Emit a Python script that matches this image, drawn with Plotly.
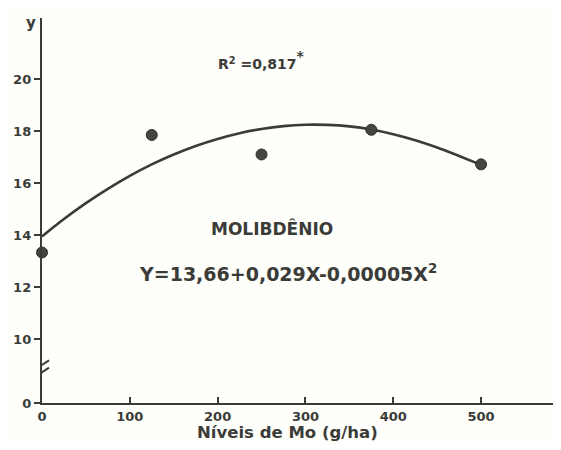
import plotly.graph_objects as go

# Observed data (Mo levels g/ha vs y)
mo_levels = [0, 125, 250, 375, 500]
y_obs = [13.33, 17.85, 17.1, 18.05, 16.72]

# Fitted curve as drawn
curve_x = [0, 25, 50, 75, 100, 125, 150, 175, 200, 225, 250, 275, 300, 325, 350, 375, 400, 425, 450, 475, 500]
curve_y = [13.95, 14.62, 15.23, 15.78, 16.28, 16.72, 17.1, 17.43, 17.7, 17.92, 18.08, 18.19, 18.245,
           18.24, 18.18, 18.06, 17.88, 17.65, 17.37, 17.04, 16.7]

x_ticks = [0, 100, 200, 300, 400, 500]
x_ticktext = ["0", "100", "200", "300", "400", "500"]
y_break = 7.54
y_ticks = [y_break, 10, 12, 14, 16, 18, 20]
y_ticktext = ["0", "10", "12", "14", "16", "18", "20"]

ink = "#3b3b38"
font = "DejaVu Sans"

fig = go.Figure()
fig.add_trace(go.Scatter(x=curve_x, y=curve_y, mode="lines",
                         line=dict(color=ink, width=2.6, shape="spline", smoothing=1.0),
                         hoverinfo="skip", showlegend=False))
fig.add_trace(go.Scatter(x=mo_levels, y=y_obs, mode="markers",
                         marker=dict(color="#444441", size=11, line=dict(color="#2e2e2c", width=1)),
                         showlegend=False, cliponaxis=False))

# page body has an 8px margin: compensate so the plot lands where the reference has it
fig.update_layout(
    width=553, height=434,
    margin=dict(l=34, r=0, t=10, b=39),
    paper_bgcolor="#fefefb", plot_bgcolor="#fefefb",
    font=dict(family=font, color=ink, size=13),
    xaxis=dict(range=[0, 591], tickvals=x_ticks, ticktext=x_ticktext, automargin=False,
               showline=True, linecolor=ink, linewidth=2.4, showgrid=False, zeroline=False,
               ticks="inside", ticklen=6, tickwidth=2, tickcolor=ink,
               tickfont=dict(size=13, family=font, color=ink, weight="bold")),
    yaxis=dict(range=[y_break, 22.35], tickvals=y_ticks, ticktext=y_ticktext, automargin=False,
               showline=True, linecolor=ink, linewidth=2.4, showgrid=False, zeroline=False,
               ticks="outside", ticklen=6, tickwidth=2, tickcolor=ink,
               tickfont=dict(size=13, family=font, color=ink, weight="bold")),
)

# axis break marks
for dy in [0, 0.28]:
    fig.add_shape(type="line", xref="x", yref="y",
                  x0=-8, x1=8, y0=8.55 + dy, y1=8.9 + dy,
                  line=dict(color=ink, width=2))

fig.add_annotation(text="y", xref="paper", yref="paper", x=0, y=1, xanchor="right",
                   yanchor="middle", xshift=-4, yshift=-5, showarrow=False,
                   font=dict(size=15, family=font, color=ink, weight="bold"))
fig.add_annotation(text="R<sup>2</sup> =0,817<span style='font-size:20px'><sup>*</sup></span>",
                   x=250, y=20.75, xref="x", yref="y",
                   showarrow=False, font=dict(size=14, family=font, color=ink, weight="bold"))
fig.add_annotation(text="MOLIBDÊNIO", x=262, y=14.25, xref="x", yref="y",
                   showarrow=False, font=dict(size=17, family=font, color=ink, weight="bold"))
fig.add_annotation(text="Y=13,66+0,029X-0,00005X<sup>2</sup>", x=280, y=12.55, xref="x", yref="y",
                   showarrow=False, font=dict(size=19, family=font, color=ink, weight="bold"))
fig.add_annotation(text="Níveis de Mo (g/ha)", xref="x", yref="paper", x=280, y=0,
                   yanchor="middle", yshift=-29, showarrow=False,
                   font=dict(size=16.5, family=font, color=ink, weight="bold"))

fig.write_html("out.html")
